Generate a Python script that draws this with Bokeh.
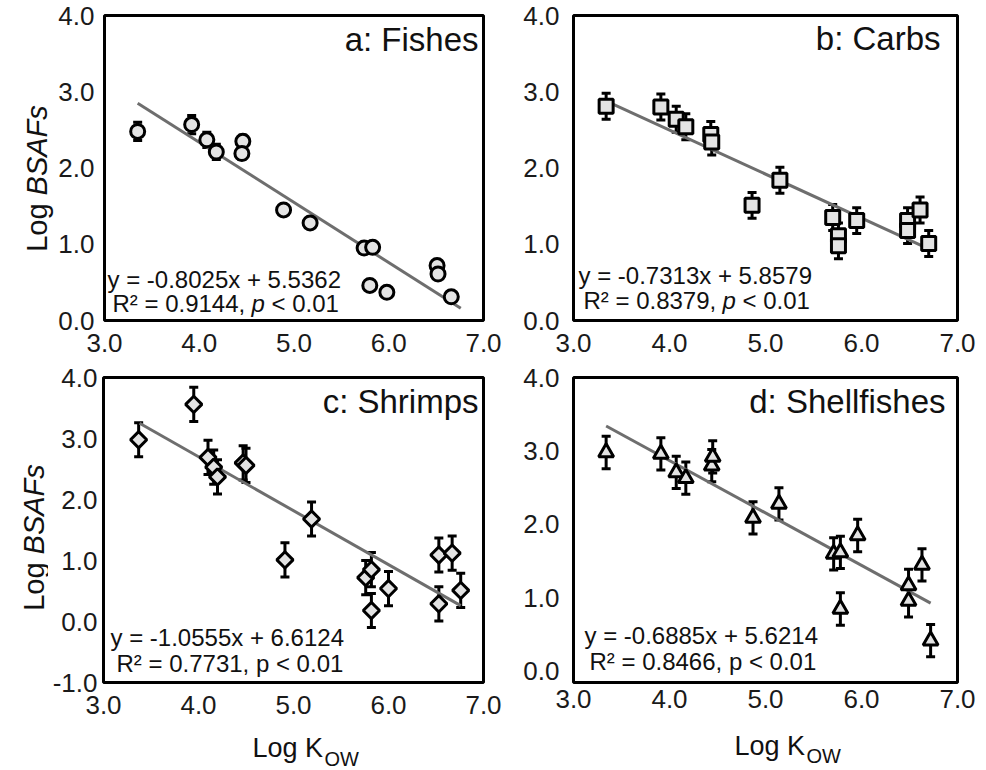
import numpy as np
from bokeh.plotting import figure
from bokeh.layouts import column, row
from bokeh.models import (ColumnDataSource, Whisker, TeeHead, Label, Range1d,
                          FixedTicker, PrintfTickFormatter)
from bokeh.embed import file_html
from bokeh.resources import INLINE

# ---------------- data ----------------
x_ticks = [3, 4, 5, 6, 7]

# a: Fishes
a_x = [3.35, 3.92, 4.08, 4.18, 4.46, 4.45, 4.89, 5.17, 5.74, 5.83, 5.80, 5.98, 6.51, 6.52, 6.66]
a_y = [2.48, 2.57, 2.37, 2.21, 2.35, 2.19, 1.45, 1.28, 0.95, 0.96, 0.46, 0.37, 0.72, 0.61, 0.31]
a_err = [0.12, 0.12, 0.10, 0.10, 0.08, 0.08, 0.05, 0.05, 0.05, 0.05, 0.04, 0.04, 0.05, 0.05, 0.04]
a_fit_x = [3.35, 6.76]
a_fit_y = [2.85, 0.16]

# b: Carbs
b_x = [3.34, 3.91, 4.07, 4.17, 4.43, 4.44, 4.86, 5.15, 5.70, 5.76, 5.76, 5.95, 6.48, 6.48, 6.61, 6.70]
b_y = [2.81, 2.80, 2.64, 2.54, 2.44, 2.34, 1.51, 1.84, 1.35, 1.11, 0.98, 1.31, 1.31, 1.18, 1.45, 1.01]
b_err = [0.17, 0.17, 0.17, 0.17, 0.17, 0.17, 0.17, 0.17, 0.17, 0.17, 0.17, 0.17, 0.17, 0.17, 0.17, 0.17]
b_fit_x = [3.37, 6.70]
b_fit_y = [2.86, 0.94]

# c: Shrimps
c_x = [3.37, 3.95, 4.10, 4.16, 4.20, 4.47, 4.50, 4.91, 5.19, 5.76, 5.82, 5.82, 6.00, 6.53, 6.67, 6.53, 6.76]
c_y = [2.98, 3.56, 2.69, 2.53, 2.37, 2.60, 2.56, 1.01, 1.68, 0.72, 0.85, 0.18, 0.54, 1.09, 1.12, 0.29, 0.51]
c_err = [0.28, 0.28, 0.28, 0.28, 0.28, 0.28, 0.28, 0.28, 0.28, 0.28, 0.28, 0.28, 0.28, 0.28, 0.28, 0.28, 0.28]
c_fit_x = [3.38, 6.76]
c_fit_y = [3.25, 0.26]

# d: Shellfishes
d_x = [3.34, 3.91, 4.07, 4.17, 4.44, 4.45, 4.87, 5.14, 5.71, 5.78, 5.78, 5.96, 6.49, 6.49, 6.63, 6.72]
d_y = [2.98, 2.96, 2.71, 2.63, 2.80, 2.92, 2.09, 2.28, 1.60, 1.62, 0.85, 1.85, 1.17, 0.96, 1.45, 0.42]
d_err = [0.22, 0.22, 0.22, 0.22, 0.22, 0.22, 0.22, 0.22, 0.22, 0.22, 0.22, 0.22, 0.22, 0.22, 0.22, 0.22]
d_fit_x = [3.34, 6.72]
d_fit_y = [3.34, 0.93]

titles = ["a: Fishes", "b: Carbs", "c: Shrimps", "d: Shellfishes"]
eq1 = ["y = -0.8025x + 5.5362", "y = -0.7313x + 5.8579",
       "y = -1.0555x + 6.6124", "y = -0.6885x + 5.6214"]
eq2_pre = ["R\u00b2 = 0.9144,", "R\u00b2 = 0.8379,", "R\u00b2 = 0.7731,", "R\u00b2 = 0.8466,"]
eq2_italic_p = [True, True, False, False]
y_title = ("Log", "BSAFs")
x_title = ("Log K", "OW")

FONT = "Liberation Sans"
FILL = "#e3e3e3"
LINE_GRAY = "#6e6e6e"
TXT = "#111111"
BASE_K = 0.35   # empirical: a Label's y is taken as the text-box centre; baseline sits ~0.35*size lower
TICK_SIZE = "26px"

# ---------------- layout geometry (window pixels) ----------------
# figures in one row share top/bottom borders (Bokeh aligns them), so keep them equal per row
ROW1 = dict(cy=0, H=361, top=15, fh=305)
ROW2 = dict(cy=361, H=369, top=377, fh=305)
geo = {
    "a": dict(ROW1, cx=55, W=465, left=103, fw=380, yr=(0, 4), yt=[0, 1, 2, 3, 4], so=10, xso=13),
    "b": dict(ROW1, cx=520, W=466, left=572, fw=385, yr=(0, 4), yt=[0, 1, 2, 3, 4], so=14, xso=13),
    "c": dict(ROW2, cx=48, W=472, left=103, fw=380, yr=(-1, 4), yt=[-1, 0, 1, 2, 3, 4], so=6, xso=13),
    "d": dict(ROW2, cx=520, W=466, left=572, fw=385, yr=(-0.15, 4.0), yt=[0, 1, 2, 3, 4], so=14, xso=7),
}


def to_data(g, X, Y):
    x = 3 + (X - g["left"]) / g["fw"] * 4.0
    y0, y1 = g["yr"]
    y = y1 - (Y - g["top"]) / g["fh"] * (y1 - y0)
    return x, y


def lab(p, x, y, text, size, **kw):
    p.add_layout(Label(x=x, y=y, text=text, text_font=FONT, text_font_size=f"{size}px",
                       text_color=TXT, **kw))


def base_lab(p, g, X, Y, text, size, **kw):
    # place text with its baseline at window pixel Y
    x, y = to_data(g, X, Y - BASE_K * size)
    lab(p, x, y, text, size, text_baseline="alphabetic", **kw)


def make_panel(key, xs, ys, errs, fx, fy, marker, msize, mangle, title, title_px, eq_px, idx):
    g = geo[key]
    p = figure(width=g["W"], height=g["H"], output_backend="svg", toolbar_location=None,
               x_range=Range1d(3, 7), y_range=Range1d(*g["yr"]),
               min_border_left=g["left"] - g["cx"],
               min_border_right=g["cx"] + g["W"] - (g["left"] + g["fw"]),
               min_border_top=g["top"] - g["cy"],
               min_border_bottom=g["cy"] + g["H"] - (g["top"] + g["fh"]),
               background_fill_color="white", border_fill_color="white")
    p.grid.visible = False
    p.outline_line_color = "black"
    p.outline_line_width = 3
    for ax in (p.xaxis[0], p.yaxis[0]):
        ax.axis_line_color = None
        ax.major_tick_line_color = None
        ax.minor_tick_line_color = None
        ax.major_tick_out = 0
        ax.major_tick_in = 0
        ax.major_label_text_font = FONT
        ax.major_label_text_font_size = TICK_SIZE
        ax.major_label_text_color = "#1a1a1a"
        ax.formatter = PrintfTickFormatter(format="%.1f")
    p.xaxis[0].ticker = FixedTicker(ticks=x_ticks)
    p.yaxis[0].ticker = FixedTicker(ticks=g["yt"])
    p.xaxis[0].major_label_standoff = g["xso"]
    p.yaxis[0].major_label_standoff = g["so"]

    src = ColumnDataSource(dict(x=xs, y=ys,
                                upper=[v + e for v, e in zip(ys, errs)],
                                lower=[v - e for v, e in zip(ys, errs)]))
    p.add_layout(Whisker(source=src, base="x", upper="upper", lower="lower",
                         line_color="black", line_width=3,
                         upper_head=TeeHead(size=9, line_width=3, line_color="black"),
                         lower_head=TeeHead(size=9, line_width=3, line_color="black")))
    p.line(fx, fy, line_color=LINE_GRAY, line_width=3)
    p.scatter("x", "y", source=src, marker=marker, size=msize, angle=mangle,
              fill_color=FILL, line_color="black", line_width=3)

    # panel title
    base_lab(p, g, title_px[0], title_px[1], title, 33, text_align="right")
    # equation lines
    (X1, Y1), (X2, Y2) = eq_px
    base_lab(p, g, X1, Y1, eq1[idx], 24)
    if eq2_italic_p[idx]:
        w_pre = 5.809 * 24
        w_p = 0.556 * 24
        base_lab(p, g, X2, Y2, eq2_pre[idx], 24)
        base_lab(p, g, X2 + w_pre, Y2, "p", 24, text_font_style="italic")
        base_lab(p, g, X2 + w_pre + w_p + 0.278 * 24, Y2, "< 0.01", 24)
    else:
        base_lab(p, g, X2, Y2, eq2_pre[idx] + " p < 0.01", 24)
    return p


pa = make_panel("a", a_x, a_y, a_err, a_fit_x, a_fit_y, "circle", 14, 0, titles[0], (478, 51),
                ((106, 287), (111, 311)), 0)
pb = make_panel("b", b_x, b_y, b_err, b_fit_x, b_fit_y, "square", 14, 0, titles[1], (940, 50),
                ((577, 283), (582, 308)), 1)
pc = make_panel("c", c_x, c_y, c_err, c_fit_x, c_fit_y, "square", 11.5, np.pi / 4, titles[2], (478, 413),
                ((110, 645), (116, 671)), 2)
pd = make_panel("d", d_x, d_y, d_err, d_fit_x, d_fit_y, "triangle", 15, 0, titles[3], (945, 413),
                ((583, 643), (588, 669)), 3)


def strip(x0, x1, cy, H, top, fh):
    # a blank figure whose frame data coordinates equal window pixels
    s = figure(width=x1 - x0, height=H, output_backend="svg", toolbar_location=None,
               x_range=Range1d(x0, x1), y_range=Range1d(top + fh, top),
               x_axis_location=None, y_axis_location=None,
               min_border_left=0, min_border_right=0,
               min_border_top=top - cy, min_border_bottom=cy + H - (top + fh),
               background_fill_color="white", border_fill_color="white")
    s.grid.visible = False
    s.outline_line_color = None
    return s


YT_SIZE = 29


def y_title_strip(width, R, cx, center_px):
    # "Log" + italic "BSAFs", read bottom-to-top; each piece centred on its own midpoint
    s = strip(0, width, R["cy"], R["H"], R["top"], R["fh"])
    w_log = 1.668 * YT_SIZE
    w_gap = 0.278 * YT_SIZE
    w_bsafs = 3.112 * YT_SIZE
    bottom_px = center_px + (w_log + w_gap + w_bsafs) / 2
    lab(s, cx, bottom_px - w_log / 2, y_title[0], YT_SIZE, angle=np.pi / 2,
        text_align="center", text_baseline="middle")
    lab(s, cx, bottom_px - w_log - w_gap - w_bsafs / 2, y_title[1], YT_SIZE, angle=np.pi / 2,
        text_align="center", text_baseline="middle", text_font_style="italic")
    return s


sy1 = y_title_strip(55, ROW1, 36, 178)
sy2 = y_title_strip(48, ROW2, 33, 537)

sx = strip(0, 986, 730, 40, 730, 40)


def xt(X, Y, text, size):
    lab(sx, X, Y - BASE_K * size, text, size, text_align="left", text_baseline="alphabetic")


xt(252, 757, x_title[0], 27)
xt(324, 765, x_title[1], 20)
xt(734, 755, x_title[0], 27)
xt(806, 762, x_title[1], 20)

layout = column(row(sy1, pa, pb), row(sy2, pc, pd), sx)
open("out.html", "w").write(file_html(layout, INLINE))
